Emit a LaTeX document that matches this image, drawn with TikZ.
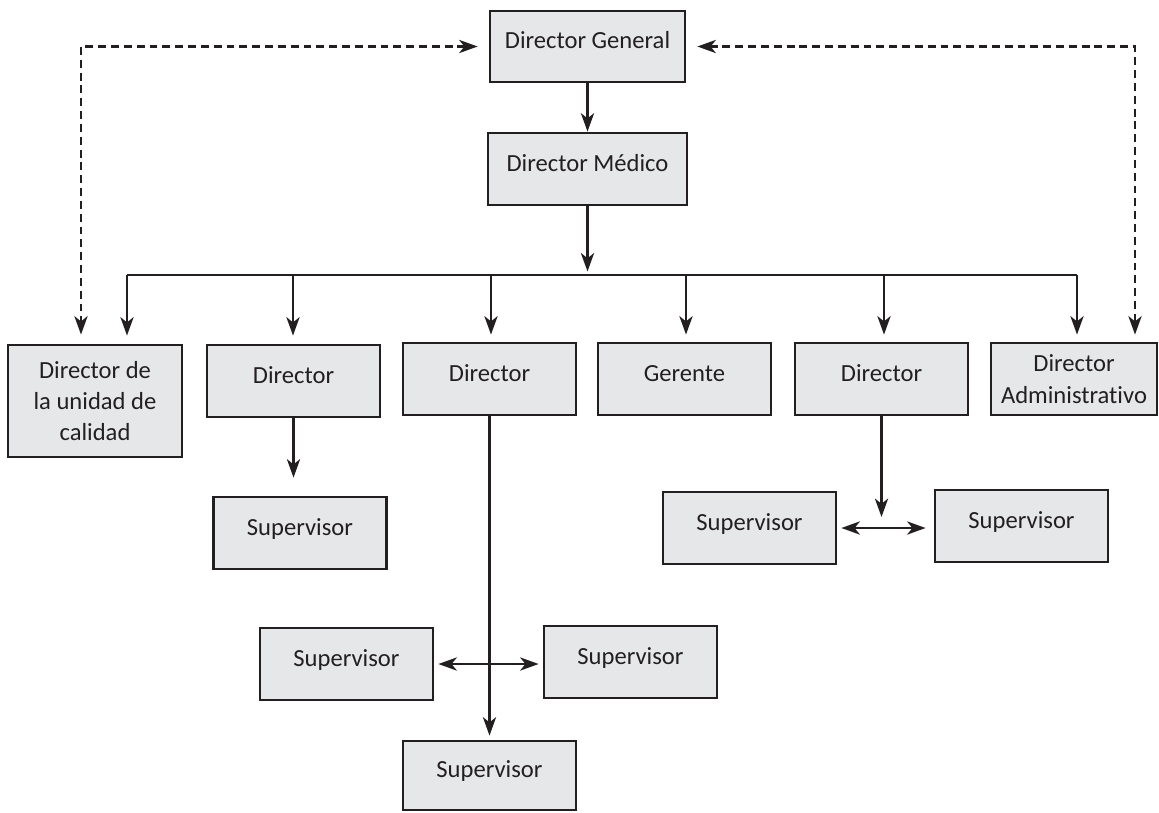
\documentclass[tikz,border=0pt]{standalone}
\usepackage{fontspec}
\setmainfont{Carlito}[Ligatures=NoCommon]
\usetikzlibrary{arrows.meta}
\definecolor{boxgray}{RGB}{230,231,233}
\definecolor{ink}{RGB}{35,31,32}
\tikzstyle{base}=[rectangle, draw=ink, fill=boxgray, line width=1.6pt, minimum width=3.46cm, minimum height=1.44cm, inner sep=0pt, text=ink, font=\fontsize{14}{17.9}\selectfont]
\tikzstyle{box}=[base, text height=9.1pt, text depth=6.8pt]
\tikzstyle{bigbox}=[base, align=center]
\tikzstyle{link}=[draw=ink, line width=1.4pt]
\tikzstyle{arr}=[link, -{Stealth[length=10.5pt, width=7.5pt, inset=3pt]}]
\tikzstyle{twoway}=[link, {Stealth[length=10.5pt, width=7.5pt, inset=3pt]}-{Stealth[length=10.5pt, width=7.5pt, inset=3pt]}]
\tikzstyle{dasharr}=[twoway, dash pattern=on 4.5pt off 2.8pt]

\begin{document}
\begin{tikzpicture}
\useasboundingbox (0, 0) rectangle (23.18, -16.24);

\node[box, minimum width=3.9cm, minimum height=1.42cm] (dg) at (11.75, -0.93) {Director General};
\node[box, minimum width=3.98cm] (dm) at (11.75, -3.38) {Director Médico};

\node[bigbox, minimum width=3.48cm, minimum height=2.24cm] (cal) at (1.9, -8.02) {Director de\\la unidad de\\calidad};
\node[box] (d1)  at (5.87, -7.62)  {Director};
\node[box] (d2)  at (9.79, -7.58)  {Director};
\node[box] (ger) at (13.69, -7.58) {Gerente};
\node[box] (d3)  at (17.63, -7.58) {Director};
\node[bigbox, minimum width=3.32cm] (adm) at (21.48, -7.58) {Director\\Administrativo};

\node[box] (s1) at (6.0, -10.66)   {Supervisor};
\node[box] (s2) at (6.93, -13.28)  {Supervisor};
\node[box] (s3) at (12.61, -13.24) {Supervisor};
\node[box, minimum height=1.38cm] (s4) at (9.79, -15.51) {Supervisor};
\node[box] (s5) at (14.99, -10.56) {Supervisor};
\node[box] (s6) at (20.43, -10.52) {Supervisor};

\coordinate (b1) at (2.54, -5.5);
\coordinate (b2) at (5.86, -5.5);
\coordinate (b3) at (9.82, -5.5);
\coordinate (b4) at (13.72, -5.5);
\coordinate (b5) at (17.68, -5.5);
\coordinate (b6) at (21.54, -5.5);
\coordinate (dl) at (1.62, -0.93);
\coordinate (dr) at (22.7, -0.93);

\draw[arr] (dg) -- (dm);
\draw[arr, shorten >=2pt] (dm.south) -- (dm.south |- b1);
\draw[link] (b1) -- (b6);
\draw[arr, shorten >=0.16cm] (b1) -- (b1 |- cal.north);
\draw[arr, shorten >=0.16cm] (b2) -- (b2 |- d1.north);
\draw[arr, shorten >=0.14cm] (b3) -- (b3 |- d2.north);
\draw[arr, shorten >=0.14cm] (b4) -- (b4 |- ger.north);
\draw[arr, shorten >=0.14cm] (b5) -- (b5 |- d3.north);
\draw[arr, shorten >=0.14cm] (b6) -- (b6 |- adm.north);

\draw[dasharr, shorten <=0.22cm, shorten >=0.18cm] (dg.west) -- (dl) -- (dl |- cal.north);
\draw[dasharr, shorten <=0.22cm, shorten >=0.14cm] (dg.east) -- (dr) -- (dr |- adm.north);

\draw[arr, shorten >=0.36cm] (d1.south) -- (d1.south |- s1.north);
\draw[arr, shorten >=0.08cm] (d2) -- (s4);
\draw[twoway, shorten <=0.08cm, shorten >=0.08cm] (s2.east) -- (s2.east -| s3.west);
\draw[arr, shorten >=0.22cm] (d3.south) -- (d3.south |- s5.east);
\draw[twoway, shorten <=0.08cm, shorten >=0.16cm] (s5.east) -- (s5.east -| s6.west);

\end{tikzpicture}
\end{document}
